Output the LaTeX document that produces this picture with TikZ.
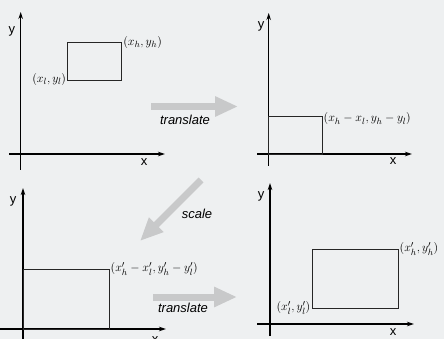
\documentclass[tikz,border=0pt]{standalone}
\usepackage{fontspec}
\newfontfamily\sfont{Liberation Sans}
\usetikzlibrary{arrows.meta}
\definecolor{bg}{HTML}{EEF0F1}
\definecolor{movegray}{HTML}{C8C9CA}
\begin{document}
\begin{tikzpicture}[x=1pt,y=-1pt,
                    axis/.style={line width=1.4pt,-{Stealth[length=7pt,width=4.5pt]}},
                    box/.style={line width=.8pt,draw=black!85},
                    move/.style={line width=7pt,draw=movegray,-{Triangle[length=23pt,width=19pt]}},
                    lab/.style={font=\fontsize{13}{14}\selectfont,inner sep=1.5pt},
                    word/.style={font=\sfont\fontsize{13}{14}\selectfont,inner sep=0pt}]
 \fill[bg] (0,0) rectangle (444,339);
 \useasboundingbox (0,0) rectangle (444,339);
 % top left
 \coordinate (ya) at (20.7,170); \coordinate (yb) at (20.7,12);
 \coordinate (xa) at (9,154); \coordinate (xb) at (165,154);
 \draw[axis] (ya)--(yb); \draw[axis] (xa)--(xb);
 \node[word] (ly) at (12,31) {y}; \node[word] (lx) at (144,162) {x};
 \coordinate (lo) at (67.7,80.7); \coordinate (hi) at (121.7,42.7);
 \draw[box] (lo) rectangle (hi);
 \node[lab,anchor=west] (hilab) at (hi) {\((x_h, y_h)\)};
 \node[lab,anchor=east] (lolab) at ([yshift=1pt]lo) {\((x_l, y_l)\)};
 % top right
 \coordinate (ya2) at (268.7,166); \coordinate (yb2) at (268.7,13);
 \coordinate (xa2) at (257,154); \coordinate (xb2) at (412,154);
 \draw[axis] (ya2)--(yb2); \draw[axis] (xa2)--(xb2);
 \node[word] (ly2) at (261,26) {y}; \node[word] (lx2) at (393,161) {x};
 \coordinate (hi2) at (322,116);
 \draw[box] (268.7,154) rectangle (hi2);
 \node[lab,anchor=west] (hilab2) at ([yshift=-3pt]hi2) {\((x_h - x_l, y_h - y_l)\)};
 % bottom left
 \coordinate (ya3) at (23,345); \coordinate (yb3) at (23,188);
 \coordinate (xa3) at (-2,329); \coordinate (xb3) at (166,329);
 \draw[axis] (ya3)--(yb3); \draw[axis] (xa3)--(xb3);
 \node[word] (ly3) at (13,201) {y}; \node[word] (lx3) at (155,340) {x};
 \coordinate (hi3) at (109,269);
 \draw[box] (23,329) rectangle (hi3);
 \node[lab,anchor=west] (hilab3) at (hi3) {\((x'_h - x'_l, y'_h - y'_l)\)};
 % bottom right
 \coordinate (ya4) at (270,336); \coordinate (yb4) at (270,183);
 \coordinate (xa4) at (257,324); \coordinate (xb4) at (414,324);
 \draw[axis] (ya4)--(yb4); \draw[axis] (xa4)--(xb4);
 \node[word] (ly4) at (261,196) {y}; \node[word] (lx4) at (393,332) {x};
 \coordinate (lo4) at (312,308); \coordinate (hi4) at (398,249);
 \draw[box] (lo4) rectangle (hi4);
 \node[lab,anchor=west] (hilab4) at (hi4) {\((x'_h, y'_h)\)};
 \node[lab,anchor=east] (lolab4) at (lo4) {\((x'_l, y'_l)\)};
 % moves
 \coordinate (m1a) at (151,106.5); \coordinate (m1b) at (238,106.5);
 \coordinate (m2a) at (201,180); \coordinate (m2b) at (140,241);
 \coordinate (m3a) at (153,297); \coordinate (m3b) at (237,297);
 \draw[move] (m1a)--(m1b); \draw[move] (m2a)--(m2b); \draw[move] (m3a)--(m3b);
 \node[word,font=\sfont\itshape\fontsize{13}{14}\selectfont] (t1) at (185,120) {translate};
 \node[word,font=\sfont\itshape\fontsize{13}{14}\selectfont] (t2) at (197,214) {scale};
 \node[word,font=\sfont\itshape\fontsize{13}{14}\selectfont] (t3) at (183,308) {translate};
\end{tikzpicture}
\end{document}
